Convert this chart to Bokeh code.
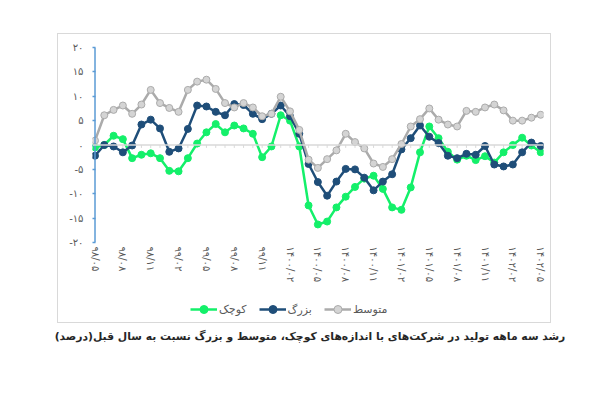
from bokeh.plotting import figure
from bokeh.models import Range1d, FixedTicker, Legend, LegendItem, Span
from bokeh.layouts import column
from bokeh.embed import file_html
from bokeh.resources import INLINE
from bokeh.core.properties import value

# ---- data ----
small = [-0.5, 0.0, 1.9, 1.2, -2.7, -2.0, -1.7, -2.7, -5.3, -5.4,
         -2.7, 0.3, 2.6, 4.3, 2.6, 4.0, 3.4, 2.3, -2.5, -0.3,
         6.1, 5.0, -0.3, -12.4, -16.3, -15.7, -12.8, -10.6, -8.6, -6.9,
         -6.3, -9.0, -12.8, -13.3, -8.7, -1.5, 3.8, 1.4, -1.4, -3.0,
         -2.2, -3.1, -2.3, -3.6, -1.5, 0.0, 1.5, -0.1, -1.5]
large = [-2.2, 0.0, -0.3, -1.5, -0.1, 4.2, 5.2, 3.4, -1.4, -0.7,
         3.3, 8.1, 7.9, 6.8, 6.1, 8.4, 8.2, 6.4, 5.3, 6.4,
         8.1, 5.9, 2.3, -3.9, -7.6, -10.4, -7.5, -4.9, -5.0, -6.7,
         -9.3, -7.5, -6.0, -0.9, 1.4, 4.0, 1.7, 0.4, -2.2, -2.7,
         -1.8, -2.0, -0.2, -4.0, -4.4, -4.0, -1.5, 0.5, -0.2]
medium = [0.9, 6.1, 7.2, 8.1, 6.4, 8.3, 11.3, 8.6, 7.6, 6.8,
          11.3, 13.0, 13.4, 11.5, 8.6, 7.7, 8.6, 7.7, 5.9, 6.4,
          9.9, 6.9, 3.1, -3.0, -4.7, -2.9, -1.1, 2.3, 0.6, -0.7,
          -3.8, -4.5, -2.9, 0.2, 3.8, 5.3, 7.5, 5.2, 4.2, 3.8,
          7.0, 6.8, 7.7, 8.3, 7.1, 5.0, 5.0, 5.6, 6.2]
x_tick_labels = ["۹۸/۰۵", "۹۸/۰۸", "۹۸/۱۱", "۹۹/۰۲", "۹۹/۰۵", "۹۹/۰۸", "۹۹/۱۱",
                 "۱۴۰۰/۰۲", "۱۴۰۰/۰۵", "۱۴۰۰/۰۸", "۱۴۰۰/۱۱",
                 "۱۴۰۱/۰۲", "۱۴۰۱/۰۵", "۱۴۰۱/۰۸", "۱۴۰۱/۱۱",
                 "۱۴۰۲/۰۲", "۱۴۰۲/۰۵"]
y_ticks = [-20, -15, -10, -5, 0, 5, 10, 15, 20]
y_tick_labels = ["-۲۰", "-۱۵", "-۱۰", "-۵", "۰", "۵", "۱۰", "۱۵", "۲۰"]
series_names = ["کوچک", "بزرگ", "متوسط"]
caption = "رشد سه ماهه تولید در شرکت‌های با اندازه‌های کوچک، متوسط و بزرگ نسبت به سال قبل(درصد)"

x = list(range(len(small)))
FONT = "DejaVu Sans"
GREEN = "#14F06A"
BLUE = "#1F4E79"
GRAY = "#ABABAB"
GRAY_FILL = "#D4D4D4"
styles = [
    dict(line_color=GREEN, fill_color=GREEN),
    dict(line_color=BLUE, fill_color=BLUE),
    dict(line_color=GRAY, fill_color=GRAY_FILL),
]
series = [small, large, medium]

# ---- main chart ----
p = figure(width=492, height=265, x_range=Range1d(-0.27, 48.3), y_range=Range1d(-20, 20),
           toolbar_location=None, output_backend="svg",
           min_border_left=34, min_border_right=7, min_border_top=13, min_border_bottom=57)
p.outline_line_color = None
p.grid.visible = False

p.yaxis.ticker = FixedTicker(ticks=y_ticks)
p.yaxis.major_label_overrides = {t: l for t, l in zip(y_ticks, y_tick_labels)}
p.yaxis.axis_line_color = None
p.yaxis.major_tick_in = 3
p.yaxis.major_tick_out = 0
p.yaxis.minor_tick_line_color = None
p.yaxis.major_tick_line_color = "#5B9BD5"
p.yaxis.major_tick_line_width = 1.5
p.yaxis.major_label_standoff = 9
p.yaxis.major_label_text_font = FONT
p.yaxis.major_label_text_font_size = "10px"
p.yaxis.major_label_text_color = "#595959"
p.add_layout(Span(location=0, dimension="height", line_color="#5B9BD5", line_width=1.5))

xt = list(range(0, len(small), 3))
p.xaxis.ticker = FixedTicker(ticks=xt)
p.xaxis.major_label_overrides = {t: l for t, l in zip(xt, x_tick_labels)}
p.xaxis.axis_line_color = None
p.xaxis.major_tick_line_color = None
p.xaxis.minor_tick_line_color = None
p.xaxis.major_tick_in = 0
p.xaxis.major_tick_out = 0
p.xaxis.major_label_orientation = "vertical"
p.xaxis.major_label_standoff = 4
p.xaxis.major_label_text_font = FONT
p.xaxis.major_label_text_font_size = "10px"
p.xaxis.major_label_text_color = "#595959"

p.add_layout(Span(location=0, dimension="width", line_color="#D9D9D9", line_width=1.5))
p.segment(x0=x, y0=[0] * len(x), x1=x, y1=[-0.6] * len(x), line_color="#D9D9D9", line_width=1)

for ys, st in zip(series, styles):
    p.line(x, ys, line_color=st["line_color"], line_width=2.5)
    p.scatter(x, ys, size=7, fill_color=st["fill_color"], line_color=st["line_color"])

# ---- legend strip (inside the bordered box); series drawn out of view, only the legend shows ----
pl = figure(width=492, height=23, x_range=Range1d(1000, 1001), y_range=Range1d(0, 1),
            toolbar_location=None, output_backend="svg",
            min_border=0, min_border_left=0, min_border_right=0, min_border_top=0, min_border_bottom=0)
pl.axis.visible = False
pl.grid.visible = False
pl.outline_line_color = None
items = []
for name, ys, st in zip(series_names, series, styles):
    r1 = pl.line(x, ys, line_color=st["line_color"], line_width=2.5)
    r2 = pl.scatter(x, ys, size=7, fill_color=st["fill_color"], line_color=st["line_color"])
    items.append(LegendItem(label=name, renderers=[r1, r2]))
legend = Legend(items=items, orientation="horizontal", location=(98, 3),
                border_line_color=None, background_fill_alpha=0,
                label_text_font=FONT, label_text_font_size="11px",
                label_text_color="#595959", glyph_width=27, spacing=12,
                label_standoff=2, padding=3, margin=0)
pl.add_layout(legend, "center")

inner = column(p, pl)
inner.margin = (33, 0, 0, 57)
inner.styles = {"border": "1px solid #D9D9D9"}

# ---- caption ----
pc = figure(width=600, height=40, x_range=Range1d(0, 600), y_range=Range1d(0, 40),
            toolbar_location=None, output_backend="svg",
            min_border=0, min_border_left=0, min_border_right=0, min_border_top=0, min_border_bottom=0)
pc.axis.visible = False
pc.grid.visible = False
pc.outline_line_color = None
pc.text(x=[309.5], y=[27.5], text=["\u200f" + caption + "\u200f"], text_align="center",
        text_baseline="middle", text_font=value(FONT), text_font_size="10.8px",
        text_font_style="bold", text_color="#262626")

layout = column(inner, pc)
layout.margin = 0
open("out.html", "w").write(file_html(layout, INLINE))
